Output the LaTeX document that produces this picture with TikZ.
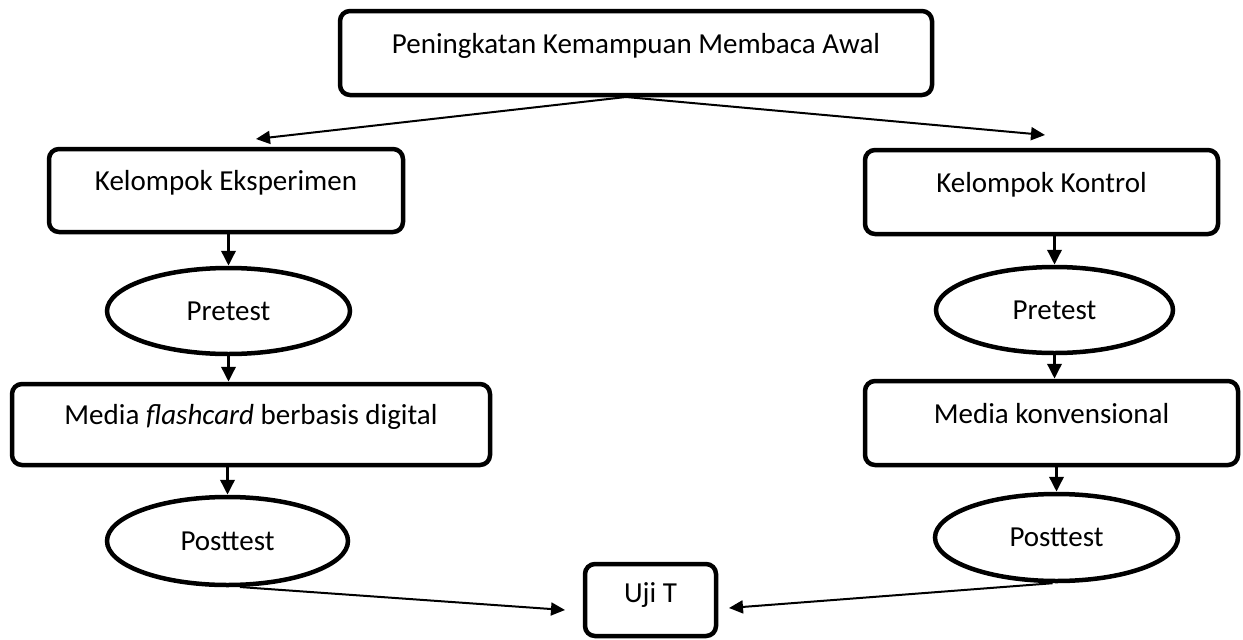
\documentclass[tikz,border=0pt]{standalone}
\usepackage{fontspec}
\setmainfont{Carlito}
\usetikzlibrary{arrows.meta,shapes.geometric}
\begin{document}
\begin{tikzpicture}[x=1pt,y=1pt]
		\tikzstyle{every node}+=[inner sep=0pt, font=\fontsize{29}{35}\selectfont]
		\tikzstyle{box}=[draw=black, line width=4.5pt, rounded corners=10pt, rectangle, text height=0.62em, text depth=0.55em]
		\tikzstyle{oval}=[draw=black, line width=4.5pt, ellipse]
		\tikzstyle{down}=[line width=3.5pt, -{Triangle[length=15pt,width=14pt]}]
		\tikzstyle{slant}=[line width=2pt, -{Triangle[length=14pt,width=13pt]}]
		\useasboundingbox (0,0) rectangle (1243,-640);
		\node [box, minimum width=592pt, minimum height=84pt] (top) at (636,-53) {Peningkatan Kemampuan Membaca Awal};
		\node [box, minimum width=354pt, minimum height=83pt] (eksp) at (226,-190.5) {Kelompok Eksperimen};
		\node [box, minimum width=353pt, minimum height=84pt] (kont) at (1041.5,-192) {Kelompok Kontrol};
		\node [oval, minimum width=243pt, minimum height=86pt] (pre1) at (228.5,-311) {Pretest};
		\node [oval, minimum width=237pt, minimum height=86pt] (pre2) at (1054.5,-310) {Pretest};
		\node [box, minimum width=478pt, minimum height=81pt] (med1) at (251,-424.5) {Media \textit{flashcard} berbasis digital};
		\node [box, minimum width=373pt, minimum height=84pt] (med2) at (1051.5,-423) {Media konvensional};
		\node [oval, minimum width=241pt, minimum height=88pt] (post1) at (227.5,-541) {Posttest};
		\node [oval, minimum width=243pt, minimum height=87pt] (post2) at (1056.5,-537.5) {Posttest};
		\node [box, minimum width=131pt, minimum height=72pt, text depth=0.2em] (uji) at (650.5,-600) {Uji T};
		\coordinate (pisah) at (626,-97);
		\coordinate (ke1) at (256,-139);
		\coordinate (ke2) at (1045,-135);
		\coordinate (ke3) at (565,-610);
		\coordinate (ke4) at (729,-608);
		\draw [slant] (pisah) -- (ke1);
		\draw [slant] (pisah) -- (ke2);
		\draw [down] (pre1.north |- eksp.south) -- (pre1.north);
		\draw [down] (pre1.south) -- (pre1.south |- med1.north);
		\draw [down] (post1.north |- med1.south) -- (post1.north);
		\draw [down] (pre2.north |- kont.south) -- (pre2.north);
		\draw [down] (pre2.south) -- (pre2.south |- med2.north);
		\draw [down] (post2.north |- med2.south) -- (post2.north);
		\draw [slant] (post1.-75) -- (ke3);
		\draw [slant] (post2.-95) -- (ke4);
	\end{tikzpicture}
\end{document}
